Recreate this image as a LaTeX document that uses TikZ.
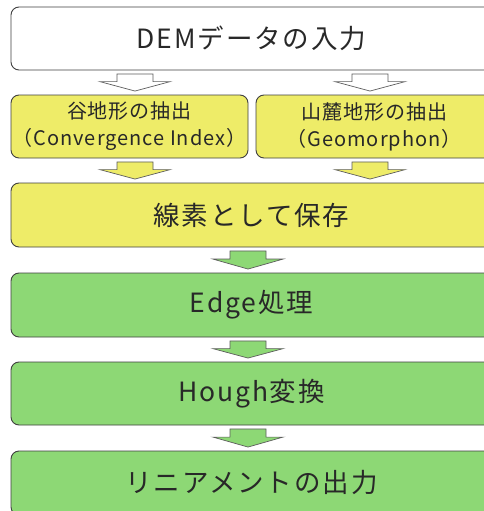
\documentclass[tikz,border=0pt]{standalone}
\usepackage{fontspec}
\setmainfont{Noto Sans CJK JP}
\newfontfamily\bigfont[LetterSpace=7]{Noto Sans CJK JP}
\newfontfamily\smallfont[LetterSpace=5]{Noto Sans CJK JP}
\usetikzlibrary{calc}
\definecolor{boxyellow}{RGB}{238,236,104}
\definecolor{boxgreen}{RGB}{141,216,117}
\definecolor{edgegray}{RGB}{64,64,64}
\definecolor{txt}{RGB}{40,40,40}
\newcommand{\blockarrow}[4]{%
  \draw[barrow, fill=#1] let \p1=($(#2 |- #3.south)+(0,3.5)$), \p2=($(#2 |- #4.north)+(0,-3.5)$) in
   (\x1-18pt,\y1) -- (\x1+18pt,\y1) -- (\x1+18pt,{0.55*\y1+0.45*\y2}) -- (\x1+35pt,{0.55*\y1+0.45*\y2})
   -- (\x1,\y2) -- (\x1-35pt,{0.55*\y1+0.45*\y2}) -- (\x1-18pt,{0.55*\y1+0.45*\y2}) -- cycle;}
\begin{document}
\begin{tikzpicture}[x=1pt,y=-1pt,
  box/.style={draw=edgegray, line width=0.9pt, rounded corners=8pt, text=txt, inner sep=0pt},
  bigtext/.style={font=\bigfont\fontsize{26.5}{30}\selectfont},
  smalltext/.style={font=\smallfont\fontsize{20}{27}\selectfont, align=center},
  barrow/.style={draw=edgegray!85, line width=0.7pt, line join=miter}]
\clip (0,0) rectangle (484,511);
\fill[white] (0,0) rectangle (484,511);
\coordinate (cL) at (135,0);
\coordinate (cR) at (370,0);
\coordinate (cM) at (248,0);
\node[box, bigtext, fill=white, minimum width=481pt, minimum height=63pt] (dem) at (251.5,38.5) {DEMデータの入力};
\node[box, smalltext, fill=boxyellow, minimum width=237pt, minimum height=63pt] (yl) at (129.5,126.5) {谷地形の抽出\\（Convergence Index）};
\node[box, smalltext, fill=boxyellow, minimum width=236pt, minimum height=63pt] (yr) at (374,126.5) {山麓地形の抽出\\（Geomorphon）};
\node[box, bigtext, fill=boxyellow, minimum width=481pt, minimum height=64pt] (save) at (251.5,215) {線素として保存};
\node[box, bigtext, fill=boxgreen, minimum width=481pt, minimum height=64pt] (edge) at (251.5,305) {Edge処理};
\node[box, bigtext, fill=boxgreen, minimum width=481pt, minimum height=63pt] (hough) at (251.5,393.5) {Hough変換};
\node[box, bigtext, fill=boxgreen, minimum width=481pt, minimum height=64pt] (out) at (251.5,483) {リニアメントの出力};
\blockarrow{white}{cL}{dem}{yl}
\blockarrow{white}{cR}{dem}{yr}
\blockarrow{boxyellow}{cL}{yl}{save}
\blockarrow{boxyellow}{cR}{yr}{save}
\blockarrow{boxgreen}{cM}{save}{edge}
\blockarrow{boxgreen}{cM}{edge}{hough}
\blockarrow{boxgreen}{cM}{hough}{out}
\end{tikzpicture}
\end{document}
